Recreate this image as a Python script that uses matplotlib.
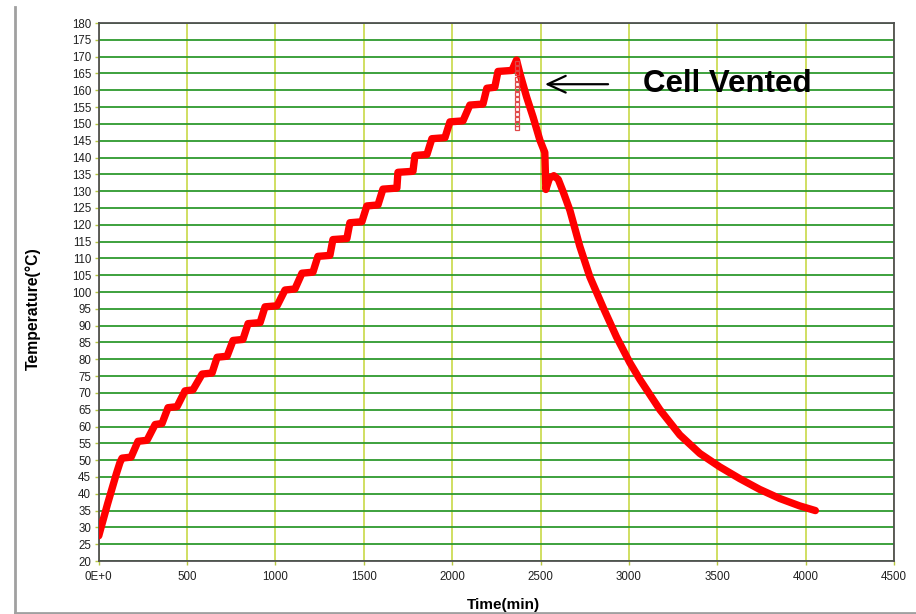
import numpy as np
import matplotlib
matplotlib.use("Agg")
import matplotlib.pyplot as plt
from matplotlib.lines import Line2D

# heating ramp before the first wait step
warm_x = [0, 50, 100, 120]
warm_y = [27.5, 37.0, 46.0, 49.3]

# heat-wait-seek plateaus (level, start, end in minutes)
step_temp = [50, 55, 60, 65, 70, 75, 80, 85, 90, 95, 100, 105,
             110, 115, 120, 125, 130, 135, 140, 145, 150, 155, 160, 165]
step_start = [132, 222, 319, 392, 488, 585, 670, 760, 845, 941, 1054, 1150,
              1240, 1325, 1421, 1517, 1608, 1693, 1789, 1885, 1987, 2100, 2196, 2259]
step_end = [183, 273, 358, 443, 533, 641, 726, 816, 913, 1009, 1110, 1212,
            1308, 1404, 1489, 1580, 1687, 1778, 1857, 1959, 2061, 2174, 2241, 2338]

# peak, venting and cool down
cool_x = [2364, 2384, 2421, 2458, 2496, 2524, 2530, 2550, 2575, 2600, 2630,
          2666, 2722, 2779, 2854, 2930, 3005, 3062, 3175, 3288, 3401, 3514,
          3627, 3740, 3853, 3966, 4055]
cool_y = [169.0, 164.8, 158.0, 152.0, 145.2, 141.5, 130.5, 133.8, 134.6, 133.5, 129.5,
          124.3, 113.6, 104.5, 95.4, 86.6, 79.0, 74.0, 65.0, 57.5, 52.0, 48.0,
          44.5, 41.3, 38.6, 36.4, 35.0]

# fast samples recorded while the cell vented
vent_x = [2364] * 14
vent_y = [168.0, 166.5, 165.0, 163.5, 162.0, 160.5, 159.0, 157.5,
          156.0, 154.5, 153.0, 151.5, 150.0, 148.8]

x = list(warm_x)
y = list(warm_y)
for t, s, e in zip(step_temp, step_start, step_end):
    x += [s, e]
    y += [t + 0.6, t + 0.9]
x += cool_x
y += cool_y

plt.rcParams['font.family'] = ['Liberation Sans', 'DejaVu Sans']

fig = plt.figure(figsize=(9.16, 6.14), dpi=100)
ax = fig.add_axes([0.1078, 0.0863, 0.8682, 0.8762])

ax.plot(x, y, color='#ff0000', lw=5.3, solid_capstyle='round', solid_joinstyle='round', zorder=3)
ax.plot(vent_x, vent_y, ls='none', marker='s', ms=3, mfc='none', mec='#e04848', mew=0.9, zorder=4)

ax.set_xlim(0, 4500)
ax.set_ylim(20, 180)
ax.set_xticks(np.arange(0, 4501, 500))
ax.set_xticklabels(['0E+0'] + [str(v) for v in range(500, 4501, 500)])
ax.set_yticks(np.arange(20, 181, 5))

ax.xaxis.grid(True, color='#cddc55', lw=1.3)
ax.yaxis.grid(True, color='#2e9a2e', lw=1.3)
ax.set_axisbelow(True)

for sp in ax.spines.values():
    sp.set_color('#505050')
    sp.set_linewidth(1.3)

ax.tick_params(axis='both', length=3, width=1, color='#b8c840',
               labelsize=8.3, labelcolor='#202020')
ax.tick_params(axis='y', pad=2.5)
ax.tick_params(axis='x', pad=4.5)

fig.text(0.036, 0.498, 'Temperature(°C)', rotation=90, ha='center', va='center',
         fontsize=11.3, fontweight='bold')
fig.text(0.550, 0.015, 'Time(min)', ha='center', va='center',
         fontsize=11, fontweight='bold')

ax.text(3080, 161.8, 'Cell Vented', ha='left', va='center',
        fontsize=22.5, fontweight='bold')
ax.annotate('', xy=(2525, 161.8), xytext=(2882, 161.8),
            arrowprops=dict(arrowstyle='->,head_length=0.65,head_width=0.3',
                            color='black', lw=1.6, mutation_scale=20,
                            shrinkA=0, shrinkB=0))

# window frame lines at left and bottom
fig.add_artist(Line2D([15 / 916, 15 / 916], [0, 1 - 7 / 614], color='#a0a0a0', lw=2))
fig.add_artist(Line2D([15 / 916, 1], [1.5 / 614, 1.5 / 614], color='#a0a0a0', lw=2))

fig.savefig('out.png', dpi=100)
